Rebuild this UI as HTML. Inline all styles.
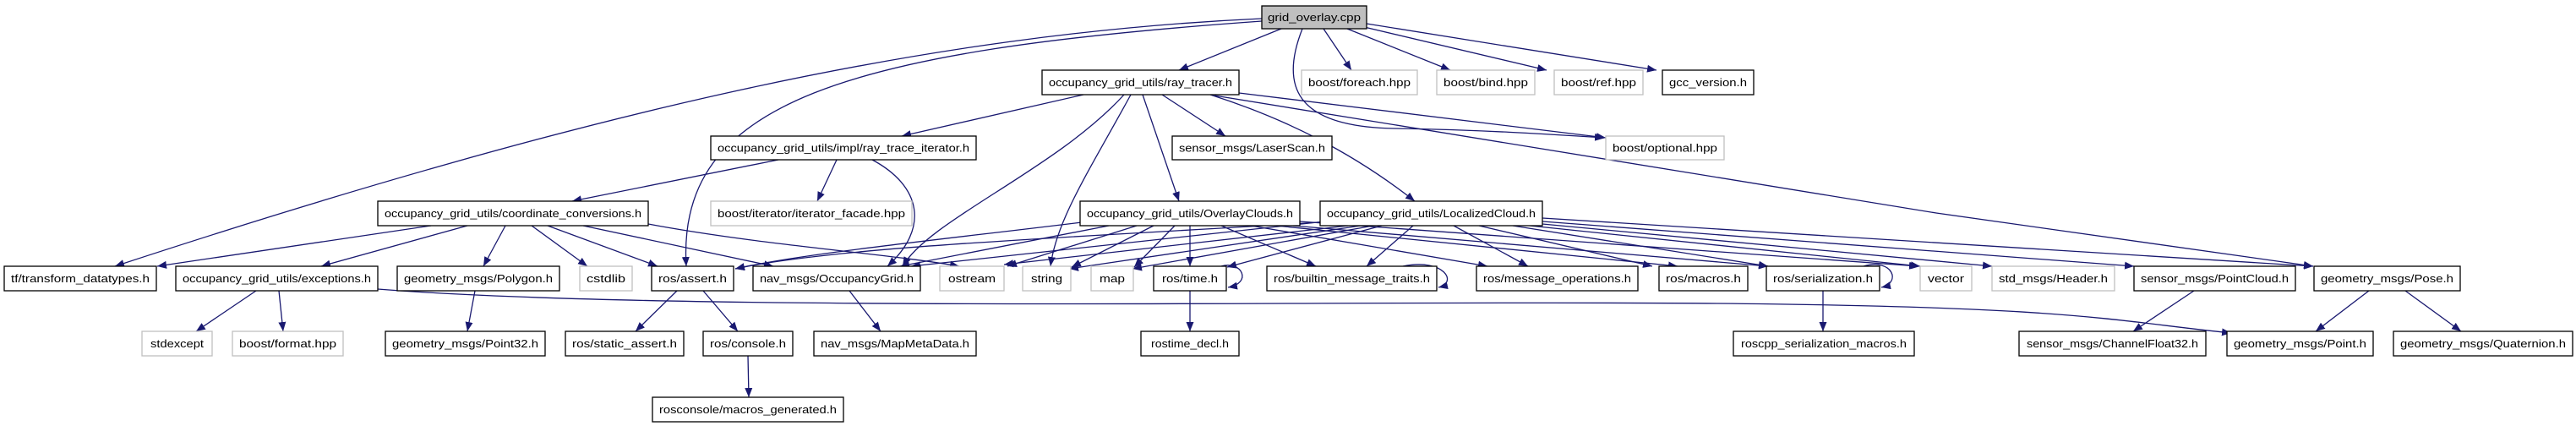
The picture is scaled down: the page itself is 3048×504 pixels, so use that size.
<!DOCTYPE html>
<html><head><meta charset="utf-8"><style>
html,body{margin:0;padding:0;background:#fff;}
svg{display:block;}
text{font-family:"Liberation Sans",sans-serif;font-size:13px;fill:#000;}
.n{fill:#fff;stroke:#000;stroke-width:1.3;}
.g{fill:#fff;stroke:#bfbfbf;stroke-width:1.3;}
.r{fill:#bfbfbf;stroke:#000;stroke-width:1.3;}
.e{fill:none;stroke:#191970;stroke-width:1.3;marker-end:url(#a);}
</style></head><body>
<svg width="3048" height="504" viewBox="0 0 3048 504" xmlns="http://www.w3.org/2000/svg">
<defs><marker id="a" markerUnits="userSpaceOnUse" markerWidth="12" markerHeight="10" refX="11" refY="4.5" orient="auto"><path d="M0,0 L11,4.5 L0,9 z" fill="#191970"/></marker></defs>
<g>
<!-- root -->
<path class="e" d="M1516 34 L1395 83"/>
<path class="e" d="M1566 34 L1599 83"/>
<path class="e" d="M1594 34 L1716 83"/>
<path class="e" d="M1610 31 L1830 83"/>
<path class="e" d="M1617 28 L1960 83"/>
<path class="e" d="M1541 34 C1515 100,1530 150,1650 152 S1850 160,1898 163"/>
<path class="e" d="M1493 22 C1100 40,700 130,136 315"/>
<path class="e" d="M1493 25 C1000 60,800 120,812 315"/>
<!-- ray_tracer -->
<path class="e" d="M1282 112 L1067 161"/>
<path class="e" d="M1330 112 C1250 200,1100 260,1068 315"/>
<path class="e" d="M1338 112 C1290 200,1250 260,1243 315"/>
<path class="e" d="M1352 112 L1395 238"/>
<path class="e" d="M1375 112 L1450 161"/>
<path class="e" d="M1432 112 C1520 140,1600 180,1674 238"/>
<path class="e" d="M1466 110 L1900 163"/>
<path class="e" d="M1437 113 L2291 252 L2737 315"/>
<!-- impl -->
<path class="e" d="M921 189 L677 238"/>
<path class="e" d="M990 189 L967 238"/>
<path class="e" d="M1032 189 C1090 220,1100 270,1050 315"/>
<!-- coord -->
<path class="e" d="M510 267 L186 315"/>
<path class="e" d="M553 267 L380 315"/>
<path class="e" d="M598 267 L572 315"/>
<path class="e" d="M629 267 L695 315"/>
<path class="e" d="M648 267 L778 315"/>
<path class="e" d="M690 267 L915 315"/>
<path class="e" d="M767 265 C900 290,1050 300,1135 315"/>
<!-- exceptions -->
<path class="e" d="M303 344 L232 392"/>
<path class="e" d="M330 344 L335 392"/>
<path class="e" d="M447 342 C800 370,1600 355,2032 359 S2500 380,2640 394"/>
<path class="e" d="M562 344 L553 392"/>
<path class="e" d="M801 344 L752 392"/>
<path class="e" d="M832 344 L873 392"/>
<path class="e" d="M885 421 L886 470"/>
<path class="e" d="M1005 344 L1042 392"/>
<path class="e" d="M1408 344 L1408 392"/>
<path class="e" d="M1445 315 C1470 308,1482 335,1453 340"/>
<path class="e" d="M1660 315 C1710 305,1725 335,1702 340"/>
<path class="e" d="M2205 315 C2240 305,2250 335,2226 340"/>
<path class="e" d="M2157 344 L2157 392"/>
<path class="e" d="M2596 344 L2524 392"/>
<path class="e" d="M2803 344 L2740 392"/>
<path class="e" d="M2846 344 L2912 392"/>
<!-- Overlay -->
<path class="e" d="M1280 263 C1100 285,950 300,870 318"/>
<path class="e" d="M1312 267 L1065 315"/>
<path class="e" d="M1345 267 L1192 315"/>
<path class="e" d="M1365 267 L1268 316"/>
<path class="e" d="M1390 267 L1342 316"/>
<path class="e" d="M1408 267 L1408 315"/>
<path class="e" d="M1445 267 L1557 315"/>
<path class="e" d="M1480 267 L1760 315"/>
<path class="e" d="M1510 267 L1985 315"/>
<path class="e" d="M1530 267 L2092 315"/>
<path class="e" d="M1538 262 L2270 315"/>
<!-- Localized -->
<path class="e" d="M1575 262 C1300 280,1000 290,870 318"/>
<path class="e" d="M1568 262 L1078 315"/>
<path class="e" d="M1595 267 L1188 313"/>
<path class="e" d="M1610 267 L1265 318"/>
<path class="e" d="M1625 267 L1340 318"/>
<path class="e" d="M1635 267 L1452 316"/>
<path class="e" d="M1672 267 L1617 315"/>
<path class="e" d="M1720 267 L1808 315"/>
<path class="e" d="M1750 267 L1955 315"/>
<path class="e" d="M1790 267 L2092 315"/>
<path class="e" d="M1810 267 L2272 315"/>
<path class="e" d="M1825 265 L2357 315"/>
<path class="e" d="M1825 262 L2525 315"/>
<path class="e" d="M1825 258 L2737 315"/>
</g>
<g>
<rect class="r" x="1493" y="7" width="124" height="27"/><text x="1555" y="25" text-anchor="middle" textLength="110" lengthAdjust="spacingAndGlyphs">grid_overlay.cpp</text>
<rect class="n" x="1233" y="83" width="233" height="29"/><text x="1349.5" y="102" text-anchor="middle" textLength="217" lengthAdjust="spacingAndGlyphs">occupancy_grid_utils/ray_tracer.h</text>
<rect class="g" x="1540" y="83" width="137" height="29"/><text x="1608.5" y="102" text-anchor="middle" textLength="121" lengthAdjust="spacingAndGlyphs">boost/foreach.hpp</text>
<rect class="g" x="1700" y="83" width="116" height="29"/><text x="1758" y="102" text-anchor="middle" textLength="100" lengthAdjust="spacingAndGlyphs">boost/bind.hpp</text>
<rect class="g" x="1839" y="83" width="105" height="29"/><text x="1891.5" y="102" text-anchor="middle" textLength="89" lengthAdjust="spacingAndGlyphs">boost/ref.hpp</text>
<rect class="n" x="1967" y="83" width="108" height="29"/><text x="2021" y="102" text-anchor="middle" textLength="92" lengthAdjust="spacingAndGlyphs">gcc_version.h</text>
<rect class="n" x="841" y="161" width="314" height="28"/><text x="998" y="179.5" text-anchor="middle" textLength="298" lengthAdjust="spacingAndGlyphs">occupancy_grid_utils/impl/ray_trace_iterator.h</text>
<rect class="n" x="1387" y="161" width="189" height="28"/><text x="1481.5" y="179.5" text-anchor="middle" textLength="173" lengthAdjust="spacingAndGlyphs">sensor_msgs/LaserScan.h</text>
<rect class="g" x="1900" y="161" width="140" height="28"/><text x="1970" y="179.5" text-anchor="middle" textLength="124" lengthAdjust="spacingAndGlyphs">boost/optional.hpp</text>
<rect class="n" x="447" y="238" width="320" height="29"/><text x="607" y="257" text-anchor="middle" textLength="304" lengthAdjust="spacingAndGlyphs">occupancy_grid_utils/coordinate_conversions.h</text>
<rect class="g" x="841" y="238" width="238" height="29"/><text x="960" y="257" text-anchor="middle" textLength="222" lengthAdjust="spacingAndGlyphs">boost/iterator/iterator_facade.hpp</text>
<rect class="n" x="1278" y="238" width="260" height="29"/><text x="1408" y="257" text-anchor="middle" textLength="244" lengthAdjust="spacingAndGlyphs">occupancy_grid_utils/OverlayClouds.h</text>
<rect class="n" x="1562" y="238" width="263" height="29"/><text x="1693.5" y="257" text-anchor="middle" textLength="247" lengthAdjust="spacingAndGlyphs">occupancy_grid_utils/LocalizedCloud.h</text>
<rect class="n" x="5" y="315" width="180" height="29"/><text x="95" y="334" text-anchor="middle" textLength="164" lengthAdjust="spacingAndGlyphs">tf/transform_datatypes.h</text>
<rect class="n" x="208" y="315" width="239" height="29"/><text x="327.5" y="334" text-anchor="middle" textLength="223" lengthAdjust="spacingAndGlyphs">occupancy_grid_utils/exceptions.h</text>
<rect class="n" x="470" y="315" width="192" height="29"/><text x="566" y="334" text-anchor="middle" textLength="176" lengthAdjust="spacingAndGlyphs">geometry_msgs/Polygon.h</text>
<rect class="g" x="686" y="315" width="62" height="29"/><text x="717" y="334" text-anchor="middle" textLength="46" lengthAdjust="spacingAndGlyphs">cstdlib</text>
<rect class="n" x="771" y="315" width="97" height="29"/><text x="819.5" y="334" text-anchor="middle" textLength="81" lengthAdjust="spacingAndGlyphs">ros/assert.h</text>
<rect class="n" x="891" y="315" width="198" height="29"/><text x="990" y="334" text-anchor="middle" textLength="182" lengthAdjust="spacingAndGlyphs">nav_msgs/OccupancyGrid.h</text>
<rect class="g" x="1112" y="315" width="76" height="29"/><text x="1150" y="334" text-anchor="middle" textLength="56" lengthAdjust="spacingAndGlyphs">ostream</text>
<rect class="g" x="1210" y="315" width="57" height="29"/><text x="1238.5" y="334" text-anchor="middle" textLength="37" lengthAdjust="spacingAndGlyphs">string</text>
<rect class="g" x="1291" y="315" width="50" height="29"/><text x="1316" y="334" text-anchor="middle" textLength="30" lengthAdjust="spacingAndGlyphs">map</text>
<rect class="n" x="1365" y="315" width="86" height="29"/><text x="1408" y="334" text-anchor="middle" textLength="66" lengthAdjust="spacingAndGlyphs">ros/time.h</text>
<rect class="n" x="1499" y="315" width="201" height="29"/><text x="1599.5" y="334" text-anchor="middle" textLength="185" lengthAdjust="spacingAndGlyphs">ros/builtin_message_traits.h</text>
<rect class="n" x="1747" y="315" width="191" height="29"/><text x="1842.5" y="334" text-anchor="middle" textLength="175" lengthAdjust="spacingAndGlyphs">ros/message_operations.h</text>
<rect class="n" x="1963" y="315" width="105" height="29"/><text x="2015.5" y="334" text-anchor="middle" textLength="89" lengthAdjust="spacingAndGlyphs">ros/macros.h</text>
<rect class="n" x="2090" y="315" width="134" height="29"/><text x="2157" y="334" text-anchor="middle" textLength="118" lengthAdjust="spacingAndGlyphs">ros/serialization.h</text>
<rect class="g" x="2272" y="315" width="61" height="29"/><text x="2302.5" y="334" text-anchor="middle" textLength="43" lengthAdjust="spacingAndGlyphs">vector</text>
<rect class="g" x="2357" y="315" width="145" height="29"/><text x="2429.5" y="334" text-anchor="middle" textLength="129" lengthAdjust="spacingAndGlyphs">std_msgs/Header.h</text>
<rect class="n" x="2525" y="315" width="191" height="29"/><text x="2620.5" y="334" text-anchor="middle" textLength="175" lengthAdjust="spacingAndGlyphs">sensor_msgs/PointCloud.h</text>
<rect class="n" x="2738" y="315" width="173" height="29"/><text x="2824.5" y="334" text-anchor="middle" textLength="157" lengthAdjust="spacingAndGlyphs">geometry_msgs/Pose.h</text>
<rect class="g" x="168" y="392" width="83" height="29"/><text x="209.5" y="411" text-anchor="middle" textLength="63" lengthAdjust="spacingAndGlyphs">stdexcept</text>
<rect class="g" x="275" y="392" width="131" height="29"/><text x="340.5" y="411" text-anchor="middle" textLength="115" lengthAdjust="spacingAndGlyphs">boost/format.hpp</text>
<rect class="n" x="456" y="392" width="189" height="29"/><text x="550.5" y="411" text-anchor="middle" textLength="173" lengthAdjust="spacingAndGlyphs">geometry_msgs/Point32.h</text>
<rect class="n" x="669" y="392" width="140" height="29"/><text x="739" y="411" text-anchor="middle" textLength="124" lengthAdjust="spacingAndGlyphs">ros/static_assert.h</text>
<rect class="n" x="832" y="392" width="106" height="29"/><text x="885" y="411" text-anchor="middle" textLength="90" lengthAdjust="spacingAndGlyphs">ros/console.h</text>
<rect class="n" x="963" y="392" width="192" height="29"/><text x="1059" y="411" text-anchor="middle" textLength="176" lengthAdjust="spacingAndGlyphs">nav_msgs/MapMetaData.h</text>
<rect class="n" x="1350" y="392" width="116" height="29"/><text x="1408" y="411" text-anchor="middle" textLength="92" lengthAdjust="spacingAndGlyphs">rostime_decl.h</text>
<rect class="n" x="2051" y="392" width="214" height="29"/><text x="2158" y="411" text-anchor="middle" textLength="196" lengthAdjust="spacingAndGlyphs">roscpp_serialization_macros.h</text>
<rect class="n" x="2389" y="392" width="221" height="29"/><text x="2499.5" y="411" text-anchor="middle" textLength="203" lengthAdjust="spacingAndGlyphs">sensor_msgs/ChannelFloat32.h</text>
<rect class="n" x="2635" y="392" width="173" height="29"/><text x="2721.5" y="411" text-anchor="middle" textLength="157" lengthAdjust="spacingAndGlyphs">geometry_msgs/Point.h</text>
<rect class="n" x="2832" y="392" width="212" height="29"/><text x="2938" y="411" text-anchor="middle" textLength="196" lengthAdjust="spacingAndGlyphs">geometry_msgs/Quaternion.h</text>
<rect class="n" x="772" y="470" width="226" height="29"/><text x="885" y="489" text-anchor="middle" textLength="210" lengthAdjust="spacingAndGlyphs">rosconsole/macros_generated.h</text>
</g>
</svg>
</body></html>
